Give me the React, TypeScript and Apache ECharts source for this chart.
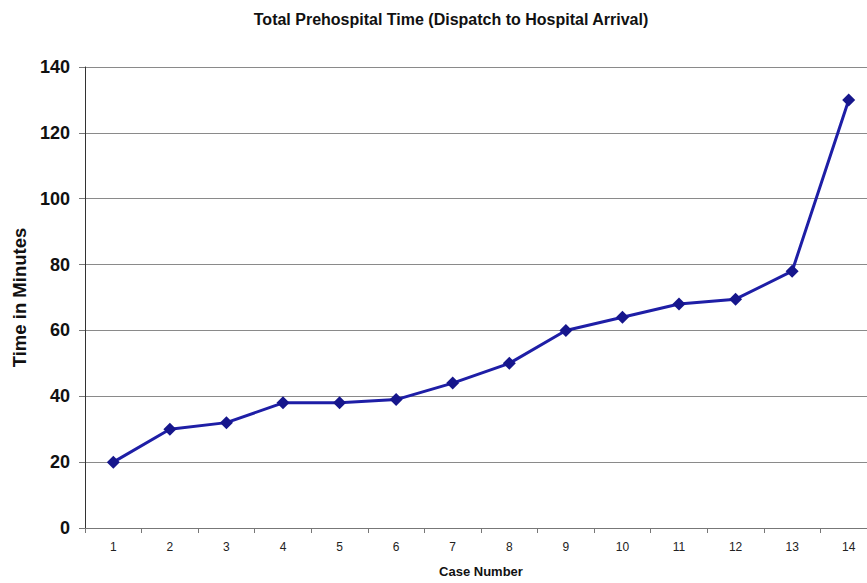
import React, { useEffect, useRef } from "react";
import * as echarts from "echarts";

const categories = ["1", "2", "3", "4", "5", "6", "7", "8", "9", "10", "11", "12", "13", "14"];
const minutes = [20, 30, 32, 38, 38, 39, 44, 50, 60, 64, 68, 69.5, 78, 130];
const titleText = "Total Prehospital Time (Dispatch to Hospital Arrival)";

export default function App() {
  const ref = useRef<HTMLDivElement>(null);
  useEffect(() => {
    document.body.style.margin = "0";
    const chart = echarts.init(ref.current!, null, { renderer: "svg" });
    chart.setOption({
      animation: false,
      backgroundColor: "#ffffff",
      title: {
        text: titleText,
        left: 446,
        textAlign: "center",
        top: 6,
        textStyle: { fontFamily: "Liberation Sans", fontWeight: "bold", fontSize: 16, color: "#111" },
      },
      grid: { left: 85, right: 3, top: 67, bottom: 51, containLabel: false },
      xAxis: {
        type: "category",
        data: categories,
        name: "Case Number",
        nameLocation: "middle",
        nameGap: 37,
        nameTextStyle: { fontFamily: "Liberation Sans", fontWeight: "bold", fontSize: 13, color: "#111" },
        axisLine: { lineStyle: { color: "#777", width: 1 } },
        axisTick: { show: true, length: 5, lineStyle: { color: "#777" } },
        axisLabel: { margin: 13, fontFamily: "Liberation Sans", fontSize: 12, color: "#222" },
      },
      yAxis: {
        type: "value",
        min: 0,
        max: 140,
        interval: 20,
        name: "Time in Minutes",
        nameLocation: "middle",
        nameGap: 56,
        nameTextStyle: { fontFamily: "Liberation Sans", fontWeight: "bold", fontSize: 18.5, color: "#111" },
        axisLine: { show: true, lineStyle: { color: "#333", width: 1 } },
        axisTick: { show: true, length: 6, lineStyle: { color: "#777" } },
        axisLabel: { margin: 15, fontFamily: "Liberation Sans", fontWeight: "bold", fontSize: 18, color: "#111" },
        splitLine: { lineStyle: { color: "#8a8a8a", width: 1 } },
      },
      series: [
        {
          type: "line",
          data: minutes,
          symbol: "diamond",
          symbolSize: 13,
          lineStyle: { color: "#1e1ea6", width: 3 },
          itemStyle: { color: "#16168c" },
        },
      ],
    });
    return () => chart.dispose();
  }, []);
  return (
    <div style={{ width: 867, height: 583, overflow: "hidden", position: "relative" }}>
      <div ref={ref} style={{ width: 880, height: 583 }} />
    </div>
  );
}
